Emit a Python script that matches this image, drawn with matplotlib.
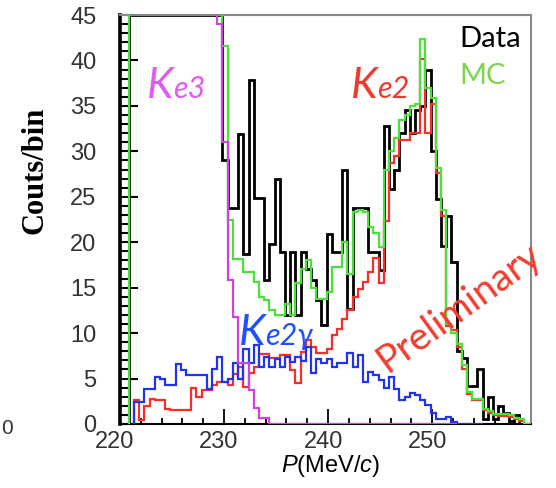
import numpy as np
import matplotlib
matplotlib.use("Agg")
import matplotlib.pyplot as plt
from matplotlib.ticker import MultipleLocator
from matplotlib.transforms import ScaledTranslation

plt.rcParams['font.family'] = ['Liberation Sans', 'DejaVu Sans']
plt.rcParams['mathtext.fontset'] = 'custom'
plt.rcParams['mathtext.rm'] = 'Liberation Sans'
plt.rcParams['mathtext.it'] = 'Liberation Sans:italic'

# momentum histograms, 0.5 MeV/c bins (values > 45 run off the top)
bin_w = 0.5
data_start = 220.85
data_counts = [45] * 18 + [
    29, 23.8, 23.8, 31.9, 18.7, 37.8, 24.9, 24.9, 15.8, 19.8,
    27, 18.9, 12, 18.9, 12, 18.9, 17, 15.8, 13.6, 10.9,
    20.9, 18.9, 18.9, 27.9, 12.7, 23.8, 23.8, 23.8, 18.9, 18.9,
    16.9, 32.8, 25.9, 28, 32, 34.6, 32, 34.6, 35, 39,
    30, 24.8, 19.6, 22.9, 17.8, 8, 7.3, 4.2, 4.2, 6,
    0.5, 3, 0.5, 2, 1.2, 0.3, 1, 0, 0, 0]

mc_start = 220.85
mc_counts = [60] * 18 + [
    41.6, 22.4, 18.2, 18.2, 16.7, 16.7, 15.6, 14, 13.6, 12.5,
    12, 12, 13.2, 12, 15.5, 17, 18, 15, 13.8, 13.8,
    14.5, 17.3, 17.3, 20, 16.5, 23.3, 23.5, 23.3, 21.7, 21,
    19.5, 27.9, 30, 31.5, 33.5, 34, 35, 35.2, 42.4, 37,
    35.9, 28.2, 23.6, 11, 10, 8.8, 6.5, 3.5, 2.8, 2.8,
    1.7, 1.4, 1.1, 1.1, 1.1, 1.0, 0.7, 0.5, 0, 0]

ke2_start = 221.35
ke2_counts = [
    2.6, 0.4, 2.0, 2.8, 2.6, 2.6, 1.7,
    1.5, 1.5, 1.5, 1.5, 4.0, 3.0, 3.7, 3.7, 4.3, 4.6,
    4.6, 4.3, 5.5, 6.3, 4.1, 5.6, 6.3, 7.7, 7.7, 7.3,
    7.3, 7.6, 7.6, 5.9, 4.5, 7.9, 9.2, 8.5, 7.8, 7.8,
    8.3, 9.8, 10.5, 11.5, 12.5, 14, 14.9, 15.6, 16.7, 18.3,
    15.5, 22.3, 28.7, 29.5, 31.2, 31.2, 32, 32, 40.2, 32,
    35.2, 27.6, 22.9, 10.8, 10.3, 8.5, 6.0, 3.3, 2.6, 2.6,
    1.5, 1.2, 1.0, 0.9, 0.9, 0.8, 0.5, 0.3, 0, 0]

ke2g_start = 221.35
ke2g_counts = [
    2.4, 2.4, 3.9, 3.9, 5.2, 5.0, 4.3,
    4.3, 6.6, 5.9, 5.4, 5.4, 5.4, 5.4, 3.8, 6.0, 7.4,
    4.6, 5.0, 6.7, 5.0, 8.3, 6.7, 8.7, 6.3, 7.4, 6.3,
    7.2, 6.3, 7.4, 6.8, 7.4, 6.9, 8.5, 5.6, 7.2, 6.7,
    7.2, 6.3, 6.7, 6.7, 7.8, 6.3, 7.6, 4.6, 5.7, 5.4,
    4.8, 4.0, 5.2, 3.8, 2.6, 3.0, 3.4, 3.2, 2.6, 2.1,
    1.2, 0.6, 0.6, 0.8, 0.2, 0, 0, 0, 0, 0]

ke3_start = 220.85
ke3_counts = [60] * 17 + [44, 31, 15.8, 11.8, 6.7, 6.7, 3.7, 1.8, 0.7, 0.7] + [0] * 36


def edges(start, vals):
    return start + bin_w * np.arange(len(vals) + 1)


W, H = 556, 488
fig = plt.figure(figsize=(W / 100, H / 100), dpi=100)
ax = fig.add_axes([120 / W, 1 - 424 / H, 411 / W, 409 / H])

ax.stairs(data_counts, edges(data_start, data_counts), color='black', lw=2.0, zorder=2)
ax.stairs(ke2_counts, edges(ke2_start, ke2_counts), color='#f5302a', lw=1.6, zorder=3)
ax.stairs(ke2g_counts, edges(ke2g_start, ke2g_counts), color='#2233ee', lw=1.6, zorder=4)
ax.stairs(mc_counts, edges(mc_start, mc_counts), color='#4be03a', lw=1.6, zorder=5)
ax.stairs(ke3_counts, edges(ke3_start, ke3_counts), color='#cc44dd', lw=1.6, zorder=6,
          baseline=None)

ax.set_xlim(220, 259.5)
ax.set_ylim(0, 45)
ax.xaxis.set_major_locator(MultipleLocator(10))
ax.xaxis.set_minor_locator(MultipleLocator(2))
ax.yaxis.set_major_locator(MultipleLocator(5))
ax.yaxis.set_minor_locator(MultipleLocator(1))
ax.tick_params(which='both', direction='in', top=False, right=False, color='black')
ax.tick_params(axis='x', which='major', length=11, width=1.3, labelsize=17,
               labelcolor='#333333', pad=5)
ax.tick_params(axis='x', which='minor', length=4.5, width=1.3)
ax.tick_params(axis='y', which='major', length=13, width=1.5, labelsize=17,
               labelcolor='#333333', pad=17)
ax.tick_params(axis='y', which='minor', length=6, width=1.5)
shift = ScaledTranslation(-5 / 100, 0, fig.dpi_scale_trans)
for lab in ax.get_xticklabels():
    lab.set_transform(lab.get_transform() + shift)

ax.spines['left'].set_linewidth(2.6)
ax.spines['bottom'].set_linewidth(1.5)
for s in ['top', 'right']:
    ax.spines[s].set_color('#888888')
    ax.spines[s].set_linewidth(1.5)

fig.text(331 / W, 1 - 466 / H, r'$P$(MeV/$c$)', ha='center', va='center', fontsize=17)
fig.text(35 / W, 1 - 170 / H, 'Couts/bin', rotation=90, ha='center', va='center',
         fontsize=22, fontweight='bold', family='Liberation Serif')
fig.text(1 / W, 1 - 428 / H, '0', ha='left', va='center', fontsize=15, color='#333333')

fig.text(459 / W, 1 - 39 / H, 'Data', ha='left', va='center', fontsize=21, family='Lato')
fig.text(459 / W, 1 - 76 / H, 'MC', ha='left', va='center', fontsize=21, family='Lato',
         color='#7ed34e')


def k_label(x, y, sub, color):
    fig.text(x / W, 1 - y / H, 'K', ha='left', va='baseline', fontsize=31,
             family='Lato', style='italic', color=color)
    fig.text((x + 26) / W, 1 - y / H, sub, ha='left', va='baseline', fontsize=22,
             family='Lato', style='italic', color=color)


k_label(147, 98, 'e3', '#e05cf0')
k_label(351, 98, 'e2', '#f03a30')
k_label(239, 345, 'e2γ', '#1f4fff')

fig.text(459 / W, 1 - 308 / H, 'Preliminary', rotation=36, rotation_mode='anchor',
         ha='center', va='center', fontsize=28, family='Lato', color='#f23c2e')

fig.savefig('out.png', dpi=100)
